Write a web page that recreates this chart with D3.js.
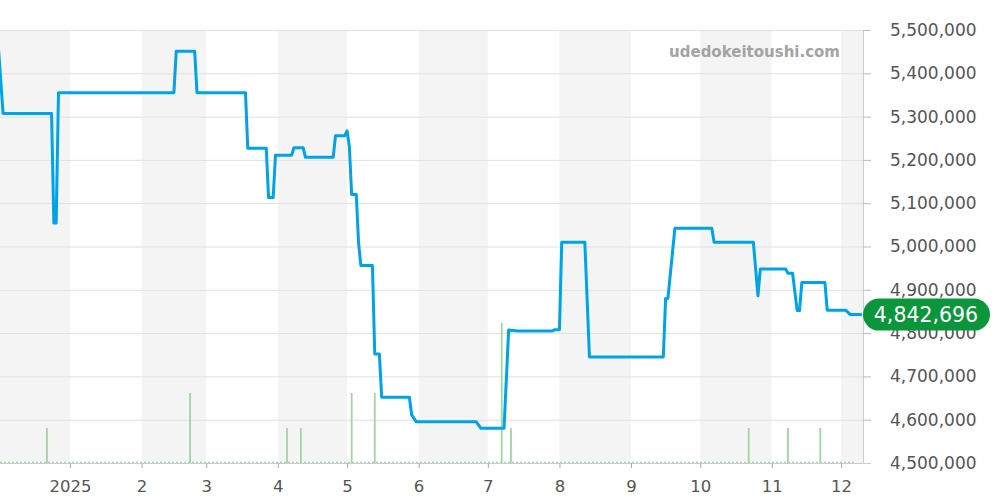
<!DOCTYPE html>
<html>
<head>
<meta charset="UTF-8">
<title>price chart</title>
<script src="https://cdn.jsdelivr.net/npm/d3@7"></script>
<style>
  body { margin: 0; background: #fff; }
  text { font-family: "DejaVu Sans", sans-serif; }
</style>
</head>
<body>
<svg width="1000" height="500"></svg>
<script>
// price history (date, yen)
var priceDates = [
  "2024-12-01","2024-12-03","2024-12-24","2024-12-25","2024-12-26","2024-12-27",
  "2025-02-15","2025-02-16","2025-02-24","2025-02-25","2025-03-18","2025-03-19",
  "2025-03-27","2025-03-28","2025-03-30","2025-03-31","2025-04-07","2025-04-08",
  "2025-04-12","2025-04-13","2025-04-25","2025-04-26","2025-04-30","2025-05-01",
  "2025-05-02","2025-05-03","2025-05-05","2025-05-06","2025-05-07","2025-05-12",
  "2025-05-13","2025-05-15","2025-05-16","2025-05-28","2025-05-29","2025-05-31",
  "2025-06-26","2025-06-28","2025-07-08","2025-07-10","2025-07-14","2025-07-29",
  "2025-07-30","2025-08-01","2025-08-02","2025-08-12","2025-08-14","2025-09-15",
  "2025-09-16","2025-09-17","2025-09-20","2025-10-06","2025-10-07","2025-10-24",
  "2025-10-26","2025-10-27","2025-11-07","2025-11-08","2025-11-10","2025-11-12",
  "2025-11-13","2025-11-14","2025-11-24","2025-11-25","2025-12-03","2025-12-05",
  "2025-12-10"
];
var priceValues = [
  5458000,5307000,5307000,5054000,5054000,5355000,
  5355000,5451000,5451000,5355000,5355000,5227000,
  5227000,5113000,5113000,5211000,5211000,5228000,
  5228000,5206000,5206000,5256000,5256000,5267000,
  5231000,5120000,5120000,5007000,4956000,4956000,
  4752000,4752000,4652000,4652000,4611000,4595000,
  4595000,4580000,4580000,4807000,4805000,4805000,
  4808000,4808000,5010000,5010000,4745000,4745000,
  4880000,4880000,5042000,5042000,5010000,5010000,
  4886000,4948000,4948000,4938000,4938000,4852000,
  4852000,4917000,4917000,4853000,4853000,4842696,
  4842696
];

// trade counts
var volumeDates = ["2024-12-22","2025-02-22","2025-04-05","2025-04-11","2025-05-03","2025-05-13",
                   "2025-07-07","2025-07-11","2025-10-22","2025-11-08","2025-11-22"];
var volumeValues = [1,2,1,1,2,2,4,1,1,1,1];

var yTicks = [4500000,4600000,4700000,4800000,4900000,5000000,5100000,5200000,5300000,5400000,5500000];
var monthStarts = ["2024-12-01","2025-01-01","2025-02-01","2025-03-01","2025-04-01","2025-05-01",
                   "2025-06-01","2025-07-01","2025-08-01","2025-09-01","2025-10-01","2025-11-01","2025-12-01"];
var lastPrice = 4842696;

var parse = d3.timeParse("%Y-%m-%d");
var svg = d3.select("svg");
var plotW = 863, plotTop = 30, plotBottom = 463;

var x = d3.scaleTime()
  .domain([new Date(2024, 11, 1, 16), new Date(2025, 11, 10, 12)])
  .range([0, plotW]);
var y = d3.scaleLinear().domain([4500000, 5500000]).range([plotBottom, plotTop]);
var yv = d3.scaleLinear().domain([0, 12.37]).range([plotBottom, plotTop]);

var prices = priceDates.map(function(d, i){ return {date: parse(d), value: priceValues[i]}; });
var vols = volumeDates.map(function(d, i){ return {date: parse(d), value: volumeValues[i]}; });
var months = monthStarts.map(parse);

// month bands
svg.append("g").selectAll("rect")
  .data(months)
  .enter().append("rect")
  .attr("x", function(d){ return Math.max(0, x(d)); })
  .attr("y", plotTop)
  .attr("width", function(d){
    var next = d3.timeMonth.offset(d, 1);
    return Math.min(plotW, x(next)) - Math.max(0, x(d));
  })
  .attr("height", plotBottom - plotTop)
  .attr("fill", function(d, i){ return i % 2 === 0 ? "#f4f4f4" : "#fff"; });

// grid lines
svg.append("g").selectAll("line")
  .data(yTicks)
  .enter().append("line")
  .attr("x1", 0).attr("x2", plotW)
  .attr("y1", function(d){ return y(d) + 0.5; })
  .attr("y2", function(d){ return y(d) + 0.5; })
  .attr("stroke", "#e0e0e0");

// right axis
var yAxis = d3.axisRight(y).tickValues(yTicks).tickSize(8).tickPadding(19)
  .tickFormat(d3.format(","));
var ya = svg.append("g").attr("transform", "translate(" + plotW + ",0)").call(yAxis);
ya.select(".domain").attr("stroke", "#ccc").attr("d", "M0.5," + plotTop + "V" + plotBottom);
ya.selectAll(".tick line").attr("stroke", "#bbb");
ya.selectAll(".tick text").attr("fill", "#555").style("font-size", "17px")
  .style("font-family", "DejaVu Sans");

// bottom axis
var xAxis = d3.axisBottom(x).tickValues(months.slice(1)).tickSize(5).tickPadding(12)
  .tickFormat(function(d){ return d.getMonth() === 0 ? d.getFullYear() : (d.getMonth() + 1); });
var xa = svg.append("g").attr("transform", "translate(0," + plotBottom + ")").call(xAxis);
xa.select(".domain").attr("stroke", "#ccc").attr("d", "M0,0.5H871");
xa.selectAll(".tick line").attr("stroke", "#aaa");
xa.selectAll(".tick text").attr("fill", "#555").style("font-size", "16.5px")
  .style("font-family", "DejaVu Sans");

// volume baseline (dotted)
svg.append("line")
  .attr("x1", 0).attr("x2", x(parse("2025-12-07")))
  .attr("y1", plotBottom - 0.5).attr("y2", plotBottom - 0.5)
  .attr("stroke", "#a6dba6").attr("stroke-width", 1.5)
  .attr("stroke-dasharray", "2,2");

// volume bars
svg.append("g").selectAll("line")
  .data(vols)
  .enter().append("line")
  .attr("x1", function(d){ return x(d.date); })
  .attr("x2", function(d){ return x(d.date); })
  .attr("y1", plotBottom)
  .attr("y2", function(d){ return yv(d.value); })
  .attr("stroke", "#9ed69e").attr("stroke-width", 1.8);

// watermark
svg.append("text")
  .attr("x", 840).attr("y", 57)
  .attr("text-anchor", "end")
  .attr("fill", "#a3a3a3")
  .style("font-size", "15px").style("font-weight", "bold")
  .text("udedokeitoushi.com");

// price line
var line = d3.line()
  .x(function(d){ return x(d.date); })
  .y(function(d){ return y(d.value); });
svg.append("path")
  .datum(prices)
  .attr("d", line)
  .attr("fill", "none")
  .attr("stroke", "#00a2e8")
  .attr("stroke-width", 3)
  .attr("stroke-linejoin", "round");

// last price label
var ly = y(lastPrice);
svg.append("rect")
  .attr("x", 863).attr("y", ly - 16)
  .attr("width", 127).attr("height", 32)
  .attr("rx", 16).attr("ry", 16)
  .attr("fill", "#0b963c");
svg.append("text")
  .attr("x", 926).attr("y", ly)
  .attr("dy", "0.36em")
  .attr("text-anchor", "middle")
  .attr("fill", "#fff")
  .style("font-size", "20.5px")
  .text(d3.format(",")(lastPrice));
</script>
</body>
</html>
